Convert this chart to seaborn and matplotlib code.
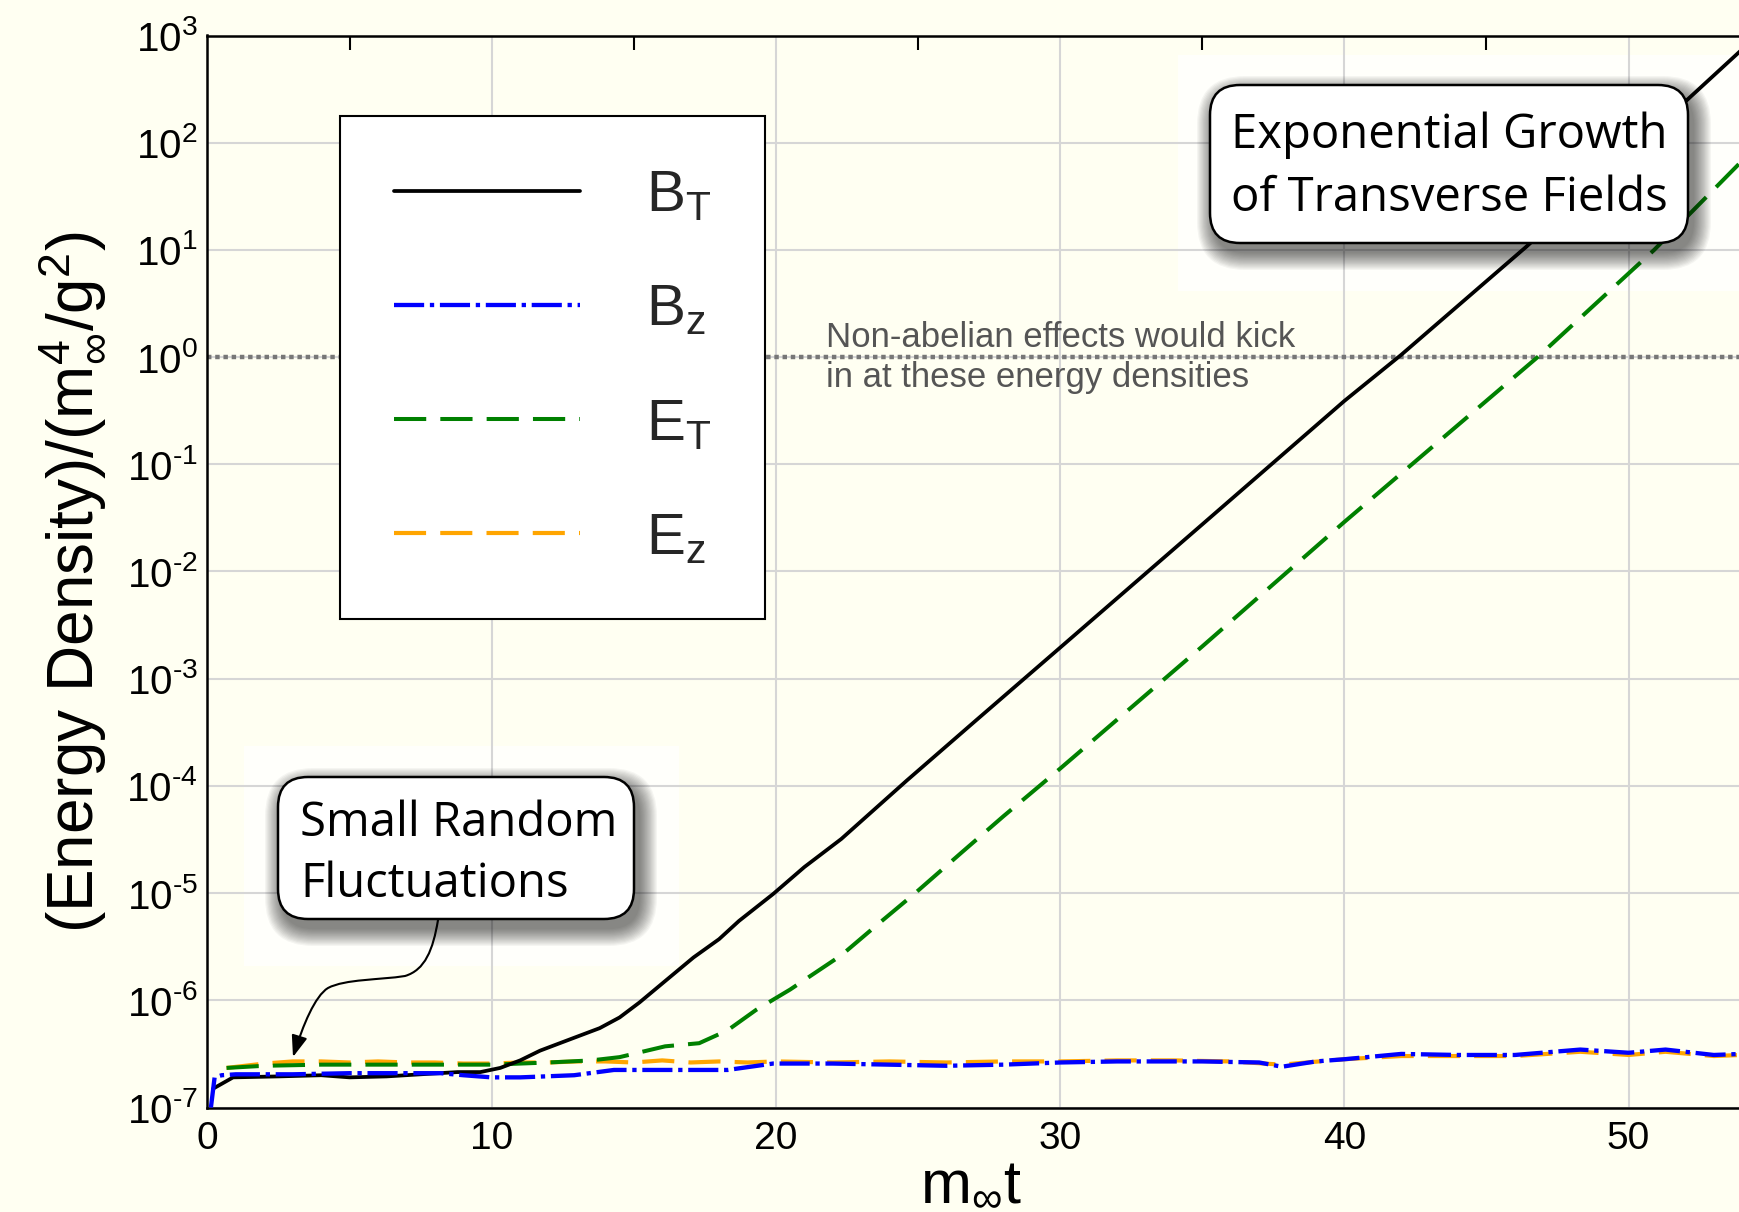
import numpy as np
import pandas as pd
import matplotlib
matplotlib.use("Agg")
import matplotlib.pyplot as plt
import seaborn as sns
from matplotlib.patches import FancyBboxPatch, Rectangle, FancyArrowPatch
from matplotlib.path import Path
from matplotlib.ticker import FixedLocator, FuncFormatter, NullFormatter

# ---------------- data ----------------
bt_t = [0.2, 0.9, 2.5, 4.0, 5.0, 6.3, 7.5, 8.8, 9.6, 10.3, 11.0, 11.7, 12.8, 13.8, 14.5,
        15.2, 16.1, 17.1, 18.0, 18.7, 19.9, 21.0, 22.3, 24.6, 27.0, 30.0, 35.0, 40.0,
        42.0, 46.4, 50.0, 53.95]
bt_v = [1.5e-7, 1.91e-7, 1.95e-7, 2.0e-7, 1.91e-7, 1.95e-7, 2.04e-7, 2.14e-7, 2.14e-7,
        2.34e-7, 2.75e-7, 3.39e-7, 4.37e-7, 5.5e-7, 6.92e-7, 9.55e-7, 1.51e-6, 2.51e-6,
        3.72e-6, 5.5e-6, 9.8e-6, 1.75e-5, 3.2e-5, 1.12e-4, 4.0e-4, 1.95e-3, 2.75e-2,
        0.39, 1.05, 10.7, 79.0, 724.0]

bz_t = [0.12, 0.25, 0.5, 1, 3, 5, 7, 8.2, 9, 10, 11, 12.9, 14.3, 16, 18.3, 19.9, 22, 24,
        26, 28, 30, 32, 35, 37, 37.8, 39, 40, 42, 44, 46, 48.3, 50, 51.3, 53, 53.95]
bz_v = [1.0e-7, 1.91e-7, 2.0e-7, 2.04e-7, 2.04e-7, 2.09e-7, 2.09e-7, 2.09e-7, 2.0e-7,
        1.91e-7, 1.91e-7, 2.0e-7, 2.24e-7, 2.24e-7, 2.24e-7, 2.57e-7, 2.57e-7, 2.51e-7,
        2.45e-7, 2.51e-7, 2.63e-7, 2.69e-7, 2.69e-7, 2.63e-7, 2.40e-7, 2.69e-7, 2.82e-7,
        3.16e-7, 3.09e-7, 3.09e-7, 3.47e-7, 3.24e-7, 3.47e-7, 3.09e-7, 3.16e-7]

et_t = [0.67, 2.0, 4.0, 6.0, 8.2, 10.0, 12.0, 13.5, 14.5, 16.1, 17.3, 18.3, 19.3, 20.5,
        22.3, 23.5, 24.9, 26.5, 28.0, 30.0, 35.0, 40.0, 46.8, 50.9, 53.95]
et_v = [2.34e-7, 2.45e-7, 2.51e-7, 2.51e-7, 2.51e-7, 2.51e-7, 2.63e-7, 2.75e-7, 2.95e-7,
        3.72e-7, 3.98e-7, 5.25e-7, 8.13e-7, 1.26e-6, 2.63e-6, 4.9e-6, 1.0e-5, 2.35e-5,
        5.2e-5, 1.45e-4, 2.0e-3, 2.9e-2, 1.0, 10.0, 66.0]

ez_t = [0.67, 2, 3, 4, 5, 6, 7, 8, 9, 10, 11, 12, 13, 14, 15, 16, 17, 18, 19, 20, 22, 24,
        26, 28, 30, 32, 34, 36, 37.8, 40, 42, 44, 46, 48.3, 50, 51.3, 53, 53.95]
ez_v = [2.34e-7, 2.57e-7, 2.69e-7, 2.69e-7, 2.63e-7, 2.69e-7, 2.63e-7, 2.63e-7, 2.57e-7,
        2.57e-7, 2.63e-7, 2.63e-7, 2.69e-7, 2.69e-7, 2.63e-7, 2.75e-7, 2.63e-7, 2.69e-7,
        2.63e-7, 2.69e-7, 2.63e-7, 2.69e-7, 2.63e-7, 2.69e-7, 2.69e-7, 2.75e-7, 2.75e-7,
        2.69e-7, 2.51e-7, 2.82e-7, 3.02e-7, 3.02e-7, 3.02e-7, 3.31e-7, 3.09e-7, 3.31e-7,
        3.02e-7, 3.09e-7]

series_labels = [r"B$_\mathrm{T}$", r"B$_\mathrm{z}$", r"E$_\mathrm{T}$", r"E$_\mathrm{z}$"]
x_ticks = [0, 10, 20, 30, 40, 50]
y_ticks = [1e-7, 1e-6, 1e-5, 1e-4, 1e-3, 1e-2, 1e-1, 1e0, 1e1, 1e2, 1e3]
threshold = 1.0
x_label = r"$\mathrm{m}_{\infty}\mathrm{t}$"
y_label = r"(Energy Density)/($\mathrm{m}_{\infty}^{4}$/g$^{2}$)"
note_lines = ["Non-abelian effects would kick", "in at these energy densities"]
callout1 = ["Exponential Growth", "of Transverse Fields"]
callout2 = ["Small Random", "Fluctuations"]

# ---------------- style ----------------
W, H = 1740, 1212
BG = "#fffff2"
sns.set_theme(style="white")
plt.rcParams.update({
    "font.family": ["Liberation Sans", "DejaVu Sans"],
    "mathtext.fontset": "custom",
    "mathtext.rm": "Liberation Sans",
    "mathtext.it": "Liberation Sans:italic",
    "mathtext.bf": "Liberation Sans:bold",
    "mathtext.sf": "Liberation Sans",
    "mathtext.default": "regular",
    "figure.facecolor": BG,
    "axes.facecolor": BG,
})

fig = plt.figure(figsize=(W / 100, H / 100), dpi=100)
ax = fig.add_axes([207.5 / W, 1 - 1107.5 / H, (W - 207.5) / W, 1072 / H])
ax.set_facecolor(BG)

inch = fig.dpi_scale_trans


def P(x, y):
    """image pixel (y down) -> inches from bottom-left"""
    return x / 100.0, (H - y) / 100.0


# whitish backdrops behind callouts
for (x0, y0, x1, y1) in [(1178, 55, 1740, 291), (244, 746, 679, 966)]:
    r = Rectangle(P(x0, y1), (x1 - x0) / 100, (y1 - y0) / 100, transform=inch,
                  facecolor="white", edgecolor="none", alpha=0.75, zorder=0.3)
    ax.add_patch(r)

df_bt = pd.DataFrame({"t": bt_t, "v": bt_v})
df_bz = pd.DataFrame({"t": bz_t, "v": bz_v})
df_et = pd.DataFrame({"t": et_t, "v": et_v})
df_ez = pd.DataFrame({"t": ez_t, "v": ez_v})

sns.lineplot(data=df_ez, x="t", y="v", ax=ax, color="#ffa500", lw=3.0, sort=False,
             estimator=None, linestyle=(0, (7.7, 3.4)), label=series_labels[3], zorder=2)
sns.lineplot(data=df_et, x="t", y="v", ax=ax, color="#008000", lw=2.9, sort=False,
             estimator=None, linestyle=(0, (8.0, 3.5)), label=series_labels[2], zorder=3)
sns.lineplot(data=df_bt, x="t", y="v", ax=ax, color="black", lw=2.7, sort=False,
             estimator=None, label=series_labels[0], zorder=3.5)
sns.lineplot(data=df_bz, x="t", y="v", ax=ax, color="#0000ff", lw=3.1, sort=False,
             estimator=None, linestyle=(0, (7.0, 1.33, 1.0, 1.33)), label=series_labels[1],
             zorder=4)

ax.axhline(threshold, color="#777777", lw=3.2, linestyle=(0, (1.0, 0.85)), zorder=1.5)

ax.set_yscale("log")
ax.set_xlim(0, 53.92)
ax.set_ylim(1e-7, 1e3)

ax.xaxis.set_major_locator(FixedLocator(x_ticks))
ax.xaxis.set_minor_locator(FixedLocator([5, 15, 25, 35, 45]))
ax.xaxis.set_minor_formatter(NullFormatter())
ax.yaxis.set_major_locator(FixedLocator(y_ticks))
ax.yaxis.set_minor_locator(FixedLocator([]))


def yfmt(v, pos):
    e = int(round(np.log10(v)))
    if e < 0:
        return r"10$^{\text{-}%d}$" % (-e)
    return r"10$^{%d}$" % e


ax.yaxis.set_major_formatter(FuncFormatter(yfmt))
ax.xaxis.set_major_formatter(FuncFormatter(lambda v, p: "%d" % v))

ax.tick_params(axis="x", which="major", length=0, labelsize=28, pad=10, colors="black")
ax.tick_params(axis="x", which="minor", top=True, bottom=False, direction="in",
               length=10, width=1.5, color="black")
ax.tick_params(axis="y", which="major", length=0, labelsize=29, pad=7, colors="black")

ax.grid(True, which="major", color="#d6d6d6", lw=1.5)
ax.set_axisbelow(True)

for s in ["left", "top", "bottom"]:
    ax.spines[s].set_color("black")
    ax.spines[s].set_linewidth(1.8)
ax.spines["right"].set_visible(False)

ax.set_xlabel(x_label, fontsize=44, color="black")
ax.xaxis.set_label_coords(0.498, -0.045)
ax.set_ylabel(y_label, fontsize=46, color="black")
ax.yaxis.set_label_coords(-0.067, 0.49)

# legend
h, l = ax.get_legend_handles_labels()
hd = dict(zip(l, h))
leg = ax.legend([hd[s] for s in series_labels], series_labels, loc="upper left",
                bbox_to_anchor=(340 / W, 1 - 115.7 / H), bbox_transform=fig.transFigure,
                borderaxespad=0, fontsize=42, handlelength=3.2, handletextpad=1.12,
                borderpad=0.92, labelspacing=1.03, frameon=True, fancybox=False,
                framealpha=1, facecolor="white", edgecolor="black")
leg.get_frame().set_linewidth(1.5)
leg.set_zorder(10)

# note text
fig.text(*P(826.4, 346.7), note_lines[0], transform=inch, fontsize=25, color="#555555",
         va="baseline", ha="left")
fig.text(*P(826.4, 386.7), note_lines[1], transform=inch, fontsize=25, color="#555555",
         va="baseline", ha="left")


def callout(x0, y0, x1, y1, lines, tx, bases, r=30):
    w, hgt = (x1 - x0) / 100, (y1 - y0) / 100
    rr = r / 100
    n = 15
    blur = 18
    for k in range(n):
        s = blur * (1 - k / n) / 100
        bx, by = P(x0 + 5, y1 + 9)
        sh = FancyBboxPatch((bx - s, by - s), w + 2 * s, hgt + 2 * s,
                            boxstyle="round,pad=0,rounding_size=%f" % (rr + s),
                            transform=inch, facecolor="black", edgecolor="none",
                            alpha=0.04, zorder=20)
        fig.add_artist(sh)
    box = FancyBboxPatch(P(x0, y1), w, hgt, boxstyle="round,pad=0,rounding_size=%f" % rr,
                         transform=inch, facecolor="white", edgecolor="black", lw=1.8,
                         zorder=21)
    fig.add_artist(box)
    for line, b in zip(lines, bases):
        fig.text(*P(tx, b), line, transform=inch, fontsize=34, family=["Open Sans"],
                 color="black", va="baseline", ha="left", zorder=22)


# arrow from the small callout
verts = [P(438, 920), P(433, 950), P(425, 970), P(405, 976), P(380, 980), P(345, 979),
         P(328, 988), P(315, 996), P(303, 1025), P(293, 1057)]
codes = [Path.MOVETO] + [Path.CURVE4] * 9
arr = FancyArrowPatch(path=Path(verts, codes), arrowstyle="-|>,head_length=13,head_width=4.8",
                      transform=inch, color="black", lw=1.5, mutation_scale=1, zorder=19)
fig.add_artist(arr)

callout(1210, 85, 1688, 243, callout1, 1231, [148, 211])
callout(278, 777, 634, 919, callout2, 300, [836, 897])

fig.savefig("out.png", dpi=100, facecolor=BG)
